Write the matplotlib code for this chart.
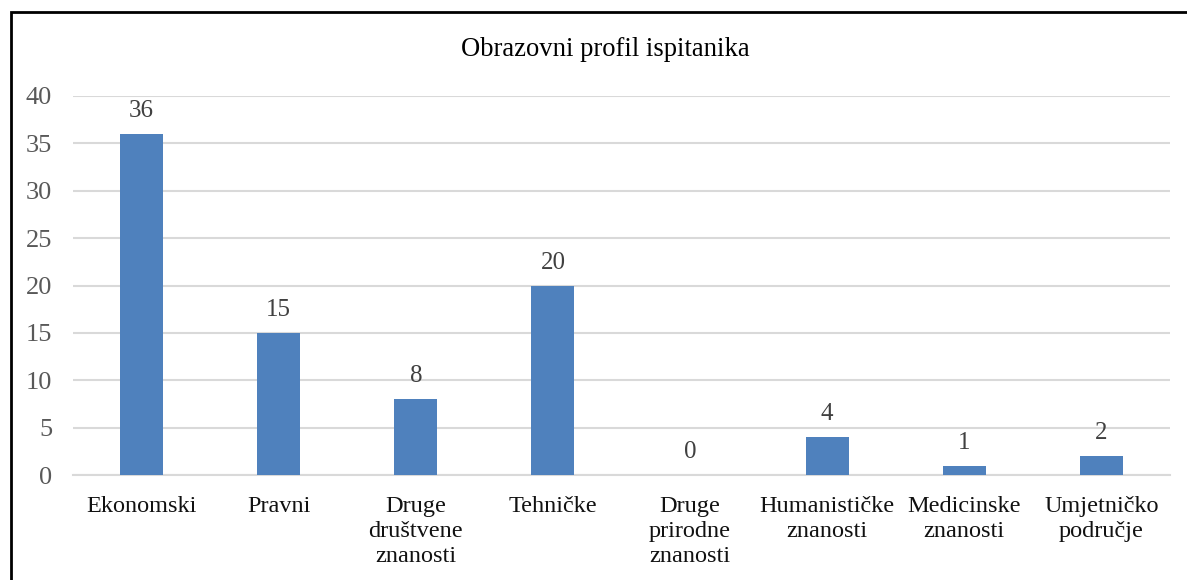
import matplotlib
matplotlib.use("Agg")
import matplotlib.pyplot as plt
from matplotlib.patches import Rectangle

categories = ["Ekonomski", "Pravni", "Druge\ndruštvene\nznanosti", "Tehničke",
              "Druge\nprirodne\nznanosti", "Humanističke\nznanosti", "Medicinske\nznanosti",
              "Umjetničko\npodručje"]
values = [36, 15, 8, 20, 0, 4, 1, 2]
yticks = [0, 5, 10, 15, 20, 25, 30, 35, 40]
title = "Obrazovni profil ispitanika"

plt.rcParams['font.family'] = ['Liberation Serif', 'DejaVu Serif']

fig = plt.figure(figsize=(11.87, 5.8), dpi=100)
ax = fig.add_axes([73/1187, (580-475)/580, (1170-73)/1187, (475-96)/580])

x = list(range(len(categories)))
bars = ax.bar(x, values, width=0.314, color="#4F81BD", zorder=3)
for xi, v in zip(x, values):
    ax.annotate(str(v), (xi, v), xytext=(0, 8.5), textcoords="offset points",
                ha="center", va="bottom", fontsize=18, color="#404040")

ax.set_xlim(-0.5, len(categories) - 0.5)
ax.set_ylim(0, 40)
ax.set_yticks(yticks)
ax.set_yticklabels([str(t) for t in yticks], fontsize=19, color="#595959")
ax.set_xticks(x)
ax.set_xticklabels(categories, fontsize=17.5, color="#111111", linespacing=1.24)
ax.tick_params(axis="both", length=0)
ax.tick_params(axis="x", pad=15)
ax.tick_params(axis="y", pad=15)
ax.grid(axis="y", color="#D9D9D9", linewidth=1.5, zorder=0)
for s in ["top", "right", "left"]:
    ax.spines[s].set_visible(False)
ax.spines["bottom"].set_color("#D9D9D9")
ax.spines["bottom"].set_linewidth(1.5)

fig.text(605/1187, 1 - 49/580, title, ha="center", va="center", fontsize=19.2, color="#000000")

fig.patches.append(Rectangle((11/1187, -0.1), 1.2, 1 - 12/580 + 0.1, transform=fig.transFigure,
                             fill=False, edgecolor="black", linewidth=2))

fig.savefig("out.png", dpi=100)
